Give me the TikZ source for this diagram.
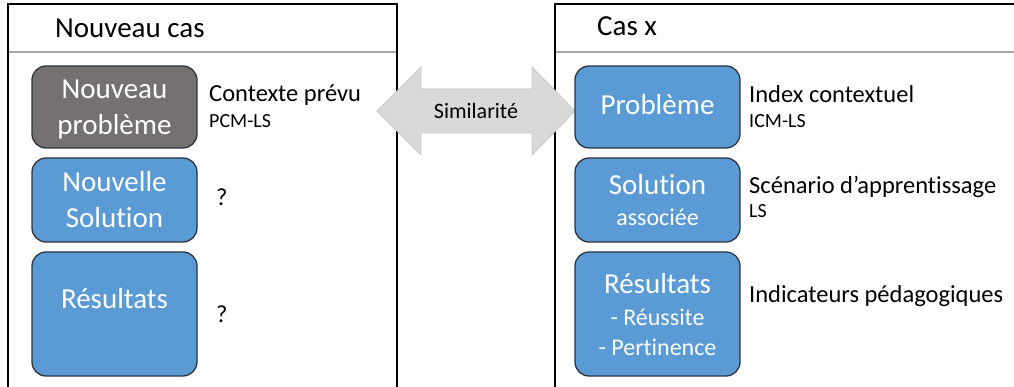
\documentclass[tikz,border=0pt]{standalone}
\usepackage{fontspec}
\setmainfont{Carlito}[RawFeature={-liga;-dlig;-clig}]
\definecolor{boxblue}{HTML}{5B9BD5}
\definecolor{boxgray}{HTML}{767171}
\definecolor{boxline}{HTML}{2B3440}
\definecolor{arrowfill}{HTML}{D9D9D9}
\definecolor{arrowline}{HTML}{C8C8C8}
\definecolor{headline}{HTML}{A6A6A6}
\begin{document}
\begin{tikzpicture}[x=1pt,y=-1pt,
  frame/.style={draw=black,line width=1.4pt},
  hline/.style={draw=headline,line width=1.4pt},
  box/.style={draw=boxline,line width=1.3pt,rounded corners=14pt,fill=boxblue,minimum width=165pt,inner sep=0pt},
  graybox/.style={box,fill=boxgray},
  big/.style={font=\fontsize{29}{35}\selectfont,inner sep=0pt},
  bigw/.style={big,text=white,anchor=base},
  midw/.style={font=\fontsize{24}{30}\selectfont,inner sep=0pt,text=white,anchor=base},
  lab/.style={font=\fontsize{24.5}{30}\selectfont,inner sep=0pt,anchor=base west},
  small/.style={font=\fontsize{20}{24}\selectfont,inner sep=0pt,anchor=base west},
  title/.style={big,anchor=base west}]
\useasboundingbox (0,0) rectangle (1014,387);
% frames
\draw[frame] (8,400) -- (8,4) -- (397,4) -- (397,400);
\draw[hline] (9,52) -- (396,52);
\draw[frame] (555,400) -- (555,4) -- (1030,4);
\draw[hline] (556,52) -- (1030,52);
\node[title] (t1) at (55,38) {Nouveau cas};
\node[title] (t2) at (597,36) {Cas x};
% double arrow
\draw[fill=arrowfill,draw=arrowline,line width=0.8pt]
  (377,111) -- (421,67) -- (421,89) -- (532,89) -- (532,67) -- (575,111)
  -- (532,155) -- (532,133) -- (421,133) -- (421,155) -- cycle;
\node[font=\fontsize{22}{26}\selectfont,inner sep=0pt] (sim) at (476,111) {Similarité};
% left boxes
\node[graybox,minimum height=82pt] (lp) at (114.5,107) {};
\node[bigw] (lp1) at (114.5,99) {Nouveau};
\node[bigw] (lp2) at (114.5,135) {problème};
\node[box,minimum height=84pt] (ls) at (114.5,200) {};
\node[bigw] (ls1) at (114.5,192) {Nouvelle};
\node[bigw] (ls2) at (114.5,228) {Solution};
\node[box,minimum height=124pt] (lr) at (114.5,314) {};
\node[bigw] (lr1) at (114.5,308) {Résultats};
% right boxes
\node[box,minimum height=82pt] (rp) at (657.5,107) {};
\node[bigw] (rp1) at (657.5,115) {Problème};
\node[box,minimum height=84pt] (rs) at (657.5,200) {};
\node[bigw] (rs1) at (657.5,195) {Solution};
\node[midw] (rs2) at (657.5,226) {associée};
\node[box,minimum height=124pt] (rr) at (657.5,314) {};
\node[bigw] (rr1) at (657.5,293) {Résultats};
\node[midw] (rr2) at (657.5,325) {- Réussite};
\node[midw] (rr3) at (657.5,355) {- Pertinence};
% left labels
\node[lab] (c1) at (209,102) {Contexte prévu};
\node[small] (c2) at (209,128) {PCM-LS};
\node[lab] (q1) at (216,206) {?};
\node[lab] (q2) at (216,322) {?};
% right labels
\node[lab] (i1) at (749,103) {Index contextuel};
\node[small] (i2) at (749,128) {ICM-LS};
\node[lab] (s1) at (749,194) {Scénario d’apprentissage};
\node[small] (s2) at (749,218) {LS};
\node[lab] (p1) at (749,302) {Indicateurs pédagogiques};
\end{tikzpicture}
\end{document}
